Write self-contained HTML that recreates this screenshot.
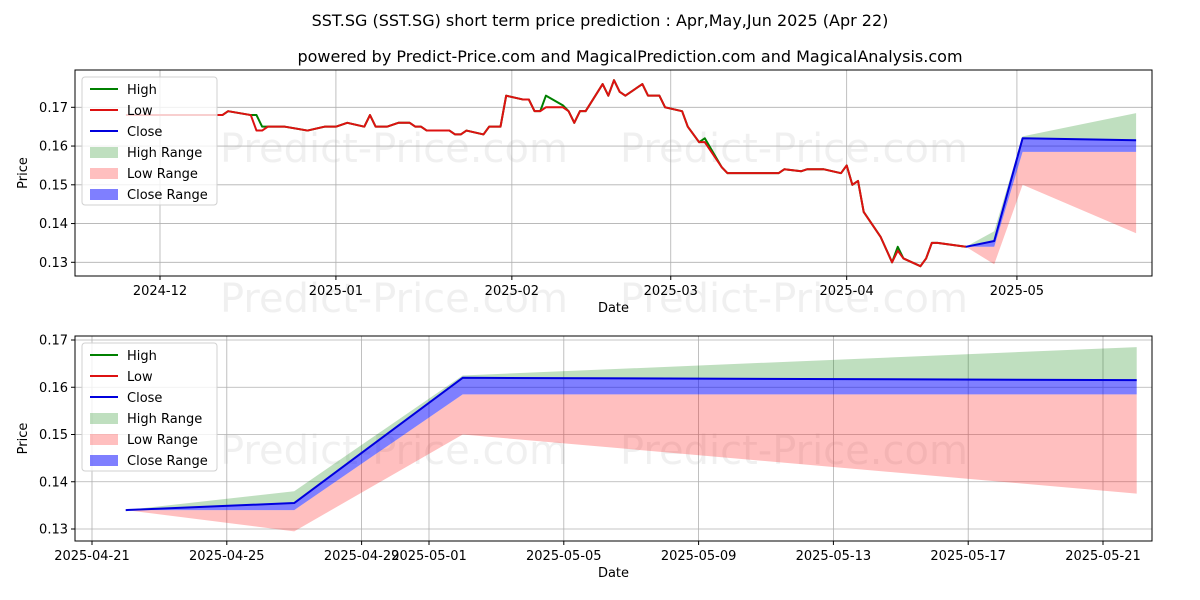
<!DOCTYPE html>
<html><head><meta charset="utf-8"><style>
body{margin:0;background:#fff;}
svg{display:block;font-family:"DejaVu Sans","Liberation Sans",sans-serif;}
</style></head><body>
<svg id="c" width="1200" height="600" xmlns="http://www.w3.org/2000/svg">
<rect width="1200" height="600" fill="#fff"/>
<text x="600" y="26" text-anchor="middle" font-size="16">SST.SG (SST.SG) short term price prediction : Apr,May,Jun 2025 (Apr 22)</text>
<text x="630" y="62" text-anchor="middle" font-size="16">powered by Predict-Price.com and MagicalPrediction.com and MagicalAnalysis.com</text>
<g id="top"></g>
<g id="bot"></g>
</svg>
<script>
// history: days since 2024-12-01
const histDays = [-6,11,12,16,17,18,19,22,26,29,31,33,36,37,38,40,42,44,45,46,47,51,52,53,54,57,58,60,61,64,65,66,67,68,71,72,73,74,75,78,79,80,81,82,85,86,88,89,92,93,95,96,99,100,109,110,113,114,117,120,121,122,123,124,127,129,130,131,134,135,136,137,142];
const histLow = [0.168,0.168,0.169,0.168,0.164,0.164,0.165,0.165,0.164,0.165,0.165,0.166,0.165,0.168,0.165,0.165,0.166,0.166,0.165,0.165,0.164,0.164,0.163,0.163,0.164,0.163,0.165,0.165,0.173,0.172,0.172,0.169,0.169,0.170,0.170,0.169,0.166,0.169,0.169,0.176,0.173,0.177,0.174,0.173,0.176,0.173,0.173,0.170,0.169,0.165,0.161,0.161,0.1545,0.153,0.153,0.154,0.1535,0.154,0.154,0.153,0.155,0.150,0.151,0.143,0.1365,0.130,0.133,0.131,0.129,0.131,0.135,0.135,0.134];
const histHigh = [0.168,0.168,0.169,0.168,0.168,0.165,0.165,0.165,0.164,0.165,0.165,0.166,0.165,0.168,0.165,0.165,0.166,0.166,0.165,0.165,0.164,0.164,0.163,0.163,0.164,0.163,0.165,0.165,0.173,0.172,0.172,0.169,0.169,0.173,0.1705,0.169,0.166,0.169,0.169,0.176,0.173,0.177,0.174,0.173,0.176,0.173,0.173,0.170,0.169,0.165,0.161,0.162,0.1545,0.153,0.153,0.154,0.1535,0.154,0.154,0.153,0.155,0.150,0.151,0.143,0.1365,0.130,0.134,0.131,0.129,0.131,0.135,0.135,0.134];
// prediction
const predDays = [142,147,152,172];
const predClose = [0.134,0.1355,0.162,0.1615];
const predHigh = [0.134,0.138,0.1625,0.1685];
const predLow = [0.134,0.1295,0.150,0.1375];
const predCloseLow = [0.134,0.134,0.1585,0.1585];
const topTicksY = [0.13,0.14,0.15,0.16,0.17];
const topTickDays = [0,31,62,90,121,151];
const topTickLabels = ["2024-12","2025-01","2025-02","2025-03","2025-04","2025-05"];
const botTicksY = [0.13,0.14,0.15,0.16,0.17];
const botTickDays = [141,145,149,151,155,159,163,167,171];
const botTickLabels = ["2025-04-21","2025-04-25","2025-04-29","2025-05-01","2025-05-05","2025-05-09","2025-05-13","2025-05-17","2025-05-21"];

const NS="http://www.w3.org/2000/svg";
function mk(parent,tag,attrs,name){const e=document.createElementNS(NS,tag);for(const k in attrs)e.setAttribute(k,attrs[k]);


parent.appendChild(e);return e;}

function panel(g,cfg){
  const {L,R,T,B,x,y,yt,xd,xl,hist}=cfg;
  // watermarks
  cfg.wm.forEach(p=>{const t=mk(g,'text',{x:p[0],y:p[1],'font-size':40,fill:'#000','fill-opacity':0.06},'watermark');t.textContent='Predict-Price.com';});
  // grid
  yt.forEach(v=>{mk(g,'line',{x1:L,x2:R,y1:y(v),y2:y(v),stroke:'#b0b0b0','stroke-width':0.8},'y-gridline');
    mk(g,'line',{x1:L-4,x2:L,y1:y(v),y2:y(v),stroke:'#000'},'y-tick');
    const t=mk(g,'text',{x:L-7,y:y(v)+4.5,'font-size':13,'text-anchor':'end'},'y-tick-label');t.textContent=v.toFixed(2);});
  xd.forEach((d,i)=>{mk(g,'line',{x1:x(d),x2:x(d),y1:T,y2:B,stroke:'#b0b0b0','stroke-width':0.8},'x-gridline');
    mk(g,'line',{x1:x(d),x2:x(d),y1:B,y2:B+4,stroke:'#000'},'x-tick');
    const t=mk(g,'text',{x:x(d),y:B+19,'font-size':13,'text-anchor':'middle'},'x-tick-label');t.textContent=xl[i];});
  const band=(a,b,fill,op,name)=>{let pts=predDays.map((d,i)=>x(d)+','+y(a[i]));
    for(let i=predDays.length-1;i>=0;i--)pts.push(x(predDays[i])+','+y(b[i]));
    mk(g,'polygon',{points:pts.join(' '),fill:fill,'fill-opacity':op},name);};
  band(predHigh,predClose,'#008000',0.25,'high-range-band');
  band(predLow,predCloseLow,'#ff0000',0.25,'low-range-band');
  band(predClose,predCloseLow,'#0000ff',0.5,'close-range-band');
  const line=(days,vals,col,name)=>mk(g,'polyline',{points:days.map((d,i)=>x(d)+','+y(vals[i])).join(' '),fill:'none',stroke:col,'stroke-width':2,'stroke-linejoin':'round'},name);
  if(hist){line(histDays,histHigh,'#008000','high-line');line(histDays,histLow,'#dd1111','low-line');}
  line(predDays,predClose,'#0000dd','close-line');
  mk(g,'rect',{x:L,y:T,width:R-L,height:B-T,fill:'none',stroke:'#000','stroke-width':1},'plot-frame');
  const xl2=mk(g,'text',{x:(L+R)/2,y:B+36,'font-size':13,'text-anchor':'middle'},'x-axis-title');xl2.textContent='Date';
  const yl=mk(g,'text',{x:0,y:0,'font-size':13,'text-anchor':'middle',transform:`translate(27,${(T+B)/2}) rotate(-90)`},'y-axis-title');yl.textContent='Price';
  // legend
  const lx=L+7,ly=T+7;
  mk(g,'rect',{x:lx,y:ly,width:135,height:128,fill:'#fff','fill-opacity':0.8,stroke:'#d0d0d0',rx:3},'legend-box');
  const items=[['High','line','#008000',1],['Low','line','#dd1111',1],['Close','line','#0000dd',1],['High Range','rect','#008000',0.25],['Low Range','rect','#ff0000',0.25],['Close Range','rect','#0000ff',0.5]];
  items.forEach((it,i)=>{const cy=ly+12+i*21;
    if(it[1]==='line')mk(g,'line',{x1:lx+8,x2:lx+36,y1:cy,y2:cy,stroke:it[2],'stroke-width':2},'legend-swatch');
    else mk(g,'rect',{x:lx+8,y:cy-5,width:28,height:11,fill:it[2],'fill-opacity':it[3]},'legend-swatch');
    const t=mk(g,'text',{x:lx+45,y:cy+5,'font-size':13},'legend-entry');t.textContent=it[0];});
}
const tL=75,tR=1152;
panel(document.getElementById('top'),{L:tL,R:tR,T:70,B:276,
  x:d=>160+d*5.675, y:v=>107.3+(0.17-v)*3875, yt:topTicksY, xd:topTickDays, xl:topTickLabels, hist:true,
  wm:[[220,162],[620,162],[220,312],[620,312]]});
panel(document.getElementById('bot'),{L:tL,R:tR,T:336,B:541,
  x:d=>92+(d-141)*33.7, y:v=>340+(0.17-v)*4725, yt:botTicksY, xd:botTickDays, xl:botTickLabels, hist:false,
  wm:[[220,464],[620,464]]});
</script>
</body></html>
